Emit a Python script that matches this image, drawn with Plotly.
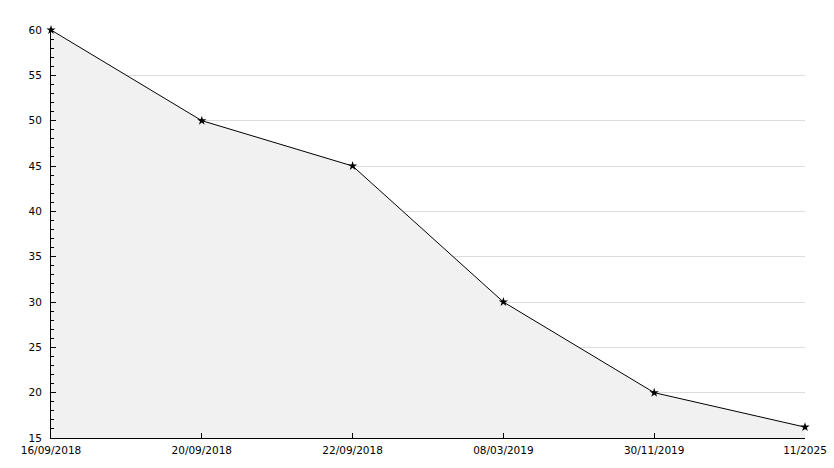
import plotly.graph_objects as go

dates = ["16/09/2018", "20/09/2018", "22/09/2018", "08/03/2019", "30/11/2019", "11/2025"]
values = [60, 50, 45, 30, 20, 16.2]

fig = go.Figure()
fig.add_trace(go.Scatter(
    x=dates, y=values, mode="lines+markers",
    fill="tozeroy", fillcolor="#f1f1f1",
    line=dict(color="black", width=1),
    marker=dict(symbol="star", size=7, color="black"),
    cliponaxis=False,
))

fig.update_layout(
    width=834, height=468,
    margin=dict(l=51, r=29, t=30, b=30),
    paper_bgcolor="white", plot_bgcolor="white",
    showlegend=False,
    font=dict(family="DejaVu Sans", size=10.5, color="black"),
)
fig.update_xaxes(
    type="category", range=[0, 5],
    showline=True, linecolor="black", linewidth=1,
    ticks="inside", ticklen=5, tickcolor="black",
    showgrid=False, zeroline=False,
    ticklabelstandoff=2, automargin=False,
)
fig.update_yaxes(
    range=[15, 60], dtick=5, tick0=15,
    showline=True, linecolor="black", linewidth=1,
    ticks="inside", ticklen=5, tickcolor="black",
    showgrid=True, gridcolor="#dcdcdc", gridwidth=1,
    zeroline=False, automargin=False,
    minor=dict(dtick=1, ticks="inside", ticklen=3, tickcolor="black", showgrid=False),
    ticklabelstandoff=6,
)
fig.write_html(
    "out.html",
    config={"displayModeBar": False},
    post_script="document.body.style.margin='0';document.body.style.overflow='hidden';",
)
